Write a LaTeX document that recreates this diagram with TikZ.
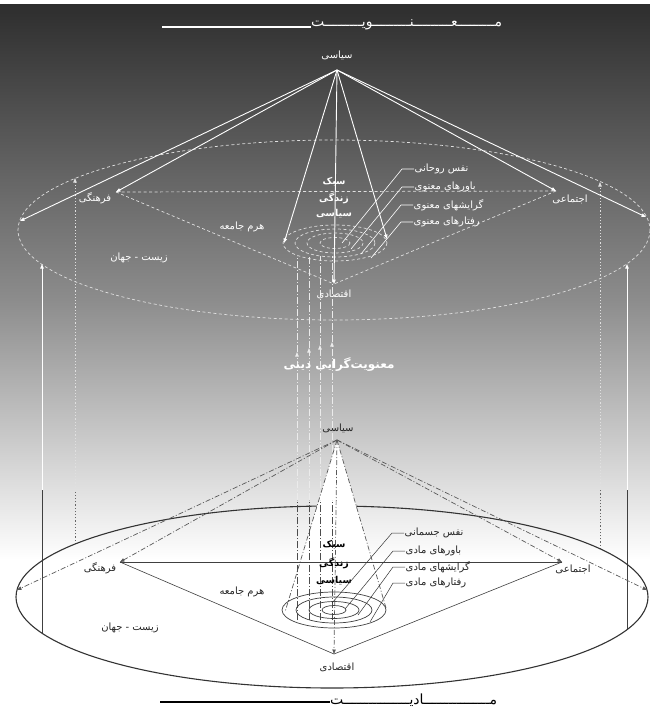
\documentclass[tikz,border=0pt]{standalone}
\usepackage{fontspec}
\usetikzlibrary{arrows.meta}
\newfontfamily\fa[Script=Arabic]{DejaVu Sans}
\TeXXeTstate=1
\begin{document}
\begin{tikzpicture}[x=1pt,y=-1pt,
  tip/.style={-{Triangle[length=4.5pt,width=3.4pt]}},
  wl/.style={draw=white,line width=0.9pt},
  wd/.style={draw=white!88!black,line width=0.7pt,dash pattern=on 3pt off 2.5pt},
  wdot/.style={draw=white!88!black,line width=0.7pt,dash pattern=on 1.2pt off 2pt},
  wv/.style={draw=white!92!black,line width=0.8pt,dash pattern=on 7pt off 2pt on 1pt off 2pt},
  kl/.style={draw=black!75,line width=0.6pt},
  kd/.style={draw=black!65,line width=0.7pt,dash pattern=on 5pt off 2pt on 1pt off 2pt},
  kdot/.style={draw=black!60,line width=0.7pt,dash pattern=on 1.2pt off 2pt},
  kv/.style={draw=black!70,line width=0.8pt,dash pattern=on 7pt off 2pt on 1pt off 2pt},
  wt/.style={text=white,font=\fa\fontsize{10}{12}\selectfont,inner sep=0.5pt},
  kt/.style={text=black!85,font=\fa\fontsize{10}{12}\selectfont,inner sep=0.5pt},
  wb/.style={text=white,font=\fa\bfseries\fontsize{9.5}{11}\selectfont,inner sep=0.5pt},
  kb/.style={text=black,font=\fa\bfseries\fontsize{9.5}{11}\selectfont,inner sep=0.5pt},
]
% background
\useasboundingbox (0,0) rectangle (650,709);
\fill[white] (0,0) rectangle (650,709);
\shade[top color=black!82, bottom color=black!45] (0,5) rectangle (650,300);
\shade[top color=black!45, bottom color=white] (0,300) rectangle (650,560);

% ---------- coordinates ----------
\coordinate (UA) at (337,70);
\coordinate (UL) at (20,221);
\coordinate (UR) at (646,217);
\coordinate (UF) at (116,192);
\coordinate (UE) at (556,191);
\coordinate (UQ) at (334,284);
\coordinate (UCL) at (284,243);
\coordinate (UCR) at (387,239);
\coordinate (UC) at (335,243);

\coordinate (LA) at (337,440);
\coordinate (LL) at (17,590);
\coordinate (LR) at (647,590);
\coordinate (LF) at (120,562);
\coordinate (LE) at (562,562);
\coordinate (LQ) at (334,654);
\coordinate (LCL) at (285,612);
\coordinate (LCR) at (386,608);
\coordinate (LC) at (334,610);

% ---------- upper (spiritual) world ----------
\draw[wd] (334,230) ellipse [x radius=316, y radius=90];
\draw[wd] (UF) -- (UE);
\draw[wd] (UF) -- (UQ);
\draw[wd] (UE) -- (UQ);
\foreach \rx/\ry in {52/18,40/14,28/10,15/5.5}
  \draw[wd] (UC) ellipse [x radius=\rx, y radius=\ry];

% vertical connectors between the two worlds
\foreach \x/\ya/\n in {297/352/1,309/348/2,320/345/3,332/342/4}{
  \coordinate (vb\n) at (\x,620);
  \coordinate (vm\n) at (\x,500);
  \coordinate (va\n) at (\x,\ya);
  \coordinate (vt\n) at (\x,256);
  \draw[kv] (vb\n) -- (vm\n);
  \draw[wv,tip] (vm\n) -- (va\n);
  \draw[wv] (va\n) -- (vt\n);
}

% side verticals
\coordinate (sl1) at (42,633); \coordinate (sl2) at (42,490); \coordinate (sl3) at (42,264);
\coordinate (sr1) at (627,630); \coordinate (sr2) at (627,490); \coordinate (sr3) at (627,264);
\coordinate (dl1) at (75,544); \coordinate (dl2) at (75,490); \coordinate (dl3) at (75,178);
\coordinate (dr1) at (600,549); \coordinate (dr2) at (600,490); \coordinate (dr3) at (600,182);
\draw[kl] (sl1) -- (sl2); \draw[wl,tip] (sl2) -- (sl3);
\draw[kl] (sr1) -- (sr2); \draw[wl,tip] (sr2) -- (sr3);
\draw[kdot] (dl1) -- (dl2); \draw[wdot,tip] (dl2) -- (dl3);
\draw[kdot] (dr1) -- (dr2); \draw[wdot,tip] (dr2) -- (dr3);

% upper solid arrows from apex
\foreach \t in {UL,UF,UR,UE,UCL,UQ,UCR}
  \draw[wl,tip] (UA) -- (\t);

% upper labels
\node[wt] (us) at (337,55) {\beginR سیاسی\endR};
\node[wt] (uf) at (95,198) {\beginR فرهنگی\endR};
\node[wt] (ue) at (570,199) {\beginR اجتماعی\endR};
\node[wt] (uh) at (242,227) {\beginR هرم جامعه\endR};
\node[wt] (uz) at (139,258) {\beginR زیست - جهان\endR};
\node[wt] (uq) at (334,294) {\beginR اقتصادی\endR};
\node[wb] (us1) at (334,182) {\beginR سبک\endR};
\node[wb] (us2) at (334,198) {\beginR زندگی\endR};
\node[wb] (us3) at (334,214) {\beginR سیاسی\endR};

\node[wt,anchor=west] (u1) at (414,169) {\beginR نفس روحانی\endR};
\node[wt,anchor=west] (u2) at (414,187) {\beginR باورهای معنوی\endR};
\node[wt,anchor=west] (u3) at (413,205) {\beginR گرایشهای معنوی\endR};
\node[wt,anchor=west] (u4) at (413,222) {\beginR رفتارهای معنوی\endR};
\coordinate (ue1) at (342,243);
\coordinate (ue2) at (351,249);
\coordinate (ue3) at (361,254);
\coordinate (ue4) at (371,258);
\foreach \n in {1,2,3,4}
  \draw[draw=white,line width=0.6pt] (u\n.west) -- ++(-12,0) -- (ue\n);

\node[text=white,font=\fa\bfseries\fontsize{12}{14}\selectfont,inner sep=0] (mid) at (339,365) {\beginR معنویت‌گرایی دینی\endR};

% top title
\node[text=white,font=\fa\fontsize{14}{16}\selectfont,anchor=west,inner sep=0] (tt) at (311,25) {\beginR مـــــــــعـــــــــنـــــــــویـــــــــت\endR};
\coordinate (ttl) at (162,27);
\draw[white,line width=1.8pt] (ttl) -- (tt.west |- ttl);

% ---------- lower (material) world ----------
\draw[draw=black!80,line width=1.1pt] (332,597) ellipse [x radius=316, y radius=91];
\foreach \t in {LL,LF,LR,LE}
  \draw[kd,tip] (LA) -- (\t);
\fill[white] (LA) -- (LCL) -- (LCR) -- cycle;
\draw[kd] (LA) -- (LCL);
\draw[kd] (LA) -- (LCR);
\foreach \n in {1,2,3,4}
  \draw[kv] (vb\n) -- (vm\n);
\draw[kl] (LF) -- (LE);
\draw[kl] (LF) -- (LQ);
\draw[kl] (LE) -- (LQ);
\foreach \rx/\ry in {52/18,38/13,25/8.5,12/4.5}
  \draw[draw=black!75,line width=0.7pt] (LC) ellipse [x radius=\rx, y radius=\ry];
\draw[kd,tip] (LA) -- (LQ);

\node[kt] (ls) at (338,428) {\beginR سیاسی\endR};
\node[kt] (lf) at (100,568) {\beginR فرهنگی\endR};
\node[kt] (le) at (573,569) {\beginR اجتماعی\endR};
\node[kt] (lh) at (242,592) {\beginR هرم جامعه\endR};
\node[kt] (lz) at (130,628) {\beginR زیست - جهان\endR};
\node[kt] (lq) at (337,667) {\beginR اقتصادی\endR};
\node[kb] (ls1) at (334,545) {\beginR سبک\endR};
\node[kb] (ls2) at (334,563) {\beginR زندگی\endR};
\node[kb] (ls3) at (334,581) {\beginR سیاسی\endR};

\node[kt,anchor=west] (l1) at (404,533) {\beginR نفس جسمانی\endR};
\node[kt,anchor=west] (l2) at (405,551) {\beginR باورهای مادی\endR};
\node[kt,anchor=west] (l3) at (405,567) {\beginR گرایشهای مادی\endR};
\node[kt,anchor=west] (l4) at (405,583) {\beginR رفتارهای مادی\endR};
\coordinate (le1) at (332,603);
\coordinate (le2) at (345,609);
\coordinate (le3) at (358,615);
\coordinate (le4) at (370,622);
\foreach \n in {1,2,3,4}
  \draw[draw=black!80,line width=0.5pt] (l\n.west) -- ++(-12,0) -- (le\n);

% bottom title
\node[text=black,font=\fa\fontsize{14}{16}\selectfont,anchor=west,inner sep=0] (bt) at (330,700) {\beginR مــــــــــــــــادیــــــــــــــــت\endR};
\coordinate (btl) at (160,702);
\draw[black,line width=1.8pt] (btl) -- (bt.west |- btl);
\end{tikzpicture}
\end{document}
